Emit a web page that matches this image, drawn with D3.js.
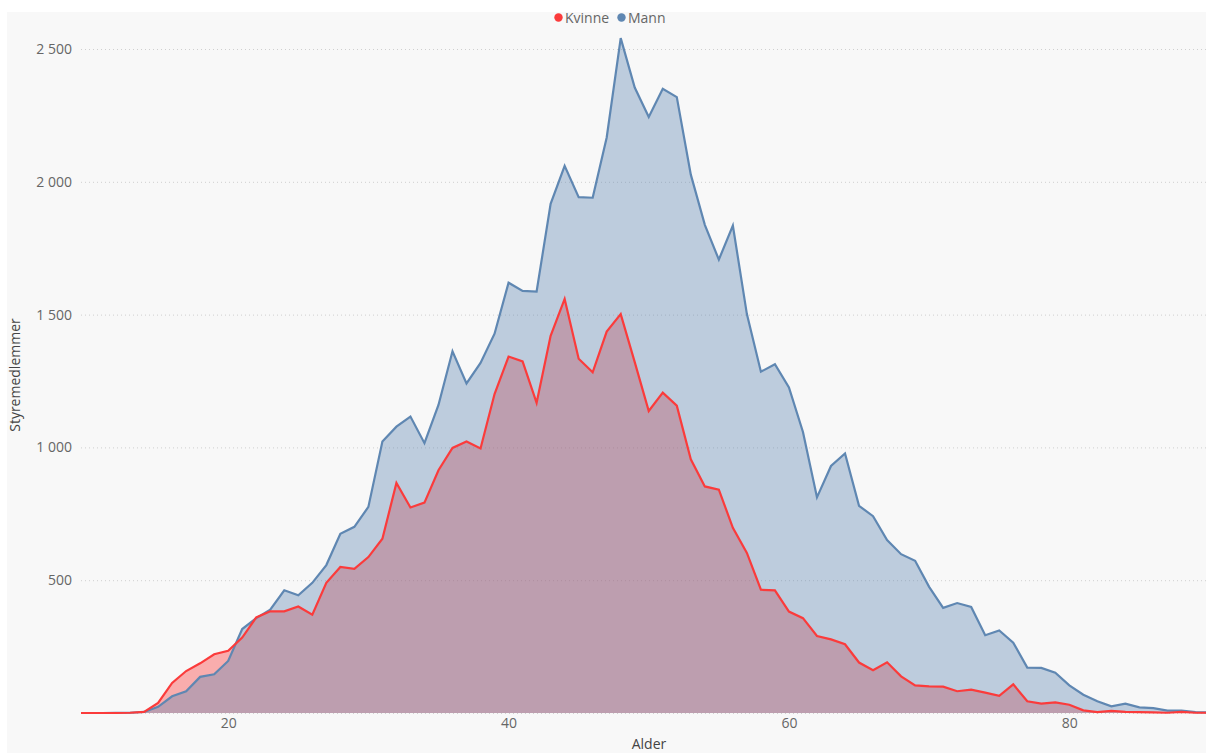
<!DOCTYPE html>
<html>
<head>
<meta charset="utf-8">
<script src="https://cdn.jsdelivr.net/npm/d3@7"></script>
<style>
  html, body { margin: 0; padding: 0; background: #ffffff; }
  svg { display: block; }
  text { font-family: "Open Sans", "Noto Sans", sans-serif; }
</style>
</head>
<body>
<svg id="chart" width="1206" height="753"></svg>
<script>
// ---- data ----
const ages = d3.range(9, 91); // 9..90
const kvinne = [
  0, 0, 0, 0, 1, 4, 38, 113, 158, 187, 221,
  234, 284, 360, 383, 383, 401, 370, 490, 550, 543,
  587, 656, 866, 774, 792, 914, 998, 1022, 996, 1201,
  1342, 1324, 1168, 1420, 1559, 1334, 1283, 1436, 1502, 1321,
  1137, 1206, 1157, 955, 853, 841, 697, 603, 464, 462,
  382, 357, 290, 277, 259, 190, 161, 191, 138, 104,
  100, 99, 82, 88, 77, 65, 108, 44, 35, 40,
  31, 10, 3, 8, 4, 3, 2, 1, 4, 1, 1
];
const mann = [
  0, 0, 0, 1, 1, 4, 23, 63, 82, 136, 146,
  196, 316, 357, 389, 462, 443, 490, 557, 675, 701,
  776, 1022, 1078, 1116, 1016, 1160, 1362, 1241, 1318, 1428,
  1620, 1589, 1587, 1917, 2060, 1942, 1940, 2167, 2541, 2355,
  2244, 2350, 2319, 2027, 1838, 1707, 1835, 1502, 1285, 1313,
  1226, 1058, 812, 930, 977, 780, 741, 651, 598, 573,
  475, 396, 414, 399, 293, 311, 265, 171, 170, 152,
  104, 69, 44, 25, 35, 21, 18, 9, 9, 3, 2
];
const seriesNames = ["Kvinne", "Mann"];
const seriesColors = ["#fb3b3b", "#5f87b2"];
const yTicks = [0, 500, 1000, 1500, 2000, 2500];
const xTicks = [20, 40, 60, 80];
const xTitle = "Alder";
const yTitle = "Styremedlemmer";

// ---- layout ----
const W = 1206, H = 753;
const plot = { left: 81, right: 1206, top: 30, bottom: 713 };

const svg = d3.select("#chart");

// panel background
svg.append("rect").attr("x", 7).attr("y", 12).attr("width", W - 7).attr("height", H - 12)
  .attr("fill", "#f8f8f8");

const x = d3.scaleLinear().domain([9.5, 89.75]).range([plot.left, plot.right]);
const y = d3.scaleLinear().domain([0, 2500]).range([plot.bottom, 49]);

// clip
svg.append("defs").append("clipPath").attr("id", "clip")
  .append("rect").attr("x", plot.left).attr("y", plot.top)
  .attr("width", plot.right - plot.left).attr("height", plot.bottom - plot.top + 2);

// gridlines
svg.append("g").selectAll("line").data(yTicks).join("line")
  .attr("x1", plot.left).attr("x2", plot.right)
  .attr("y1", d => y(d) + 0.5).attr("y2", d => y(d) + 0.5)
  .attr("stroke", "#cfcfcf").attr("stroke-width", 1)
  .attr("stroke-dasharray", "1,3");

// y axis labels
const fmt = v => d3.format(",")(v).replace(/,/g, "\u00a0");
const yAxis = d3.axisLeft(y).tickValues(yTicks.filter(d => d > 0)).tickFormat(fmt).tickSize(0).tickPadding(0);
const gy = svg.append("g").attr("transform", `translate(72,0)`).call(yAxis);
gy.select(".domain").remove();
gy.selectAll("text").attr("fill", "#666").style("font-size", "14px")
  .style("font-family", '"Open Sans", sans-serif');

// x axis labels
const xAxis = d3.axisBottom(x).tickValues(xTicks).tickSize(0).tickPadding(0);
const gx = svg.append("g").attr("transform", `translate(0,718)`).call(xAxis);
gx.select(".domain").remove();
gx.selectAll("text").attr("fill", "#666").style("font-size", "14px")
  .style("font-family", '"Open Sans", sans-serif');

// titles
svg.append("text").attr("x", 649).attr("y", 749).attr("text-anchor", "middle")
  .attr("fill", "#444").style("font-size", "14px").text(xTitle);
svg.append("text").attr("transform", "translate(20,375) rotate(-90)")
  .attr("text-anchor", "middle").attr("fill", "#444").style("font-size", "14px").text(yTitle);

// areas & lines
const area = vals => d3.area().x((d, i) => x(ages[i])).y0(y(0)).y1((d) => y(d))(vals);
const line = vals => d3.line().x((d, i) => x(ages[i])).y(d => y(d))(vals);

const g = svg.append("g").attr("clip-path", "url(#clip)");
g.append("path").attr("d", area(kvinne)).attr("fill", seriesColors[0]).attr("fill-opacity", 0.4);
g.append("path").attr("d", area(mann)).attr("fill", seriesColors[1]).attr("fill-opacity", 0.39);
g.append("path").attr("d", line(mann)).attr("fill", "none").attr("stroke", seriesColors[1])
  .attr("stroke-width", 2.2).attr("stroke-linejoin", "miter");
g.append("path").attr("d", line(kvinne)).attr("fill", "none").attr("stroke", seriesColors[0])
  .attr("stroke-width", 2.2).attr("stroke-linejoin", "miter");

// legend
const legendItems = [
  { name: seriesNames[0], color: seriesColors[0], cx: 558.5, tx: 565 },
  { name: seriesNames[1], color: seriesColors[1], cx: 621.5, tx: 628 }
];
const lg = svg.append("g");
legendItems.forEach(it => {
  lg.append("circle").attr("cx", it.cx).attr("cy", 17.5).attr("r", 4.2).attr("fill", it.color);
  lg.append("text").attr("x", it.tx).attr("y", 23).attr("fill", "#666")
    .style("font-size", "14px").text(it.name);
});
</script>
</body>
</html>
